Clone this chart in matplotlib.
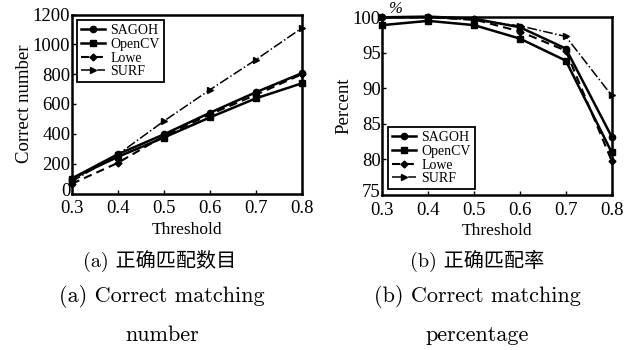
import matplotlib
matplotlib.use("Agg")
import matplotlib.pyplot as plt
import matplotlib.transforms as mtransforms

thresholds = [0.3, 0.4, 0.5, 0.6, 0.7, 0.8]
series_names = ["SAGOH", "OpenCV", "Lowe", "SURF"]

count_sagoh = [100, 263, 396, 541, 679, 807]
count_opencv = [100, 245, 375, 510, 638, 739]
count_lowe = [65, 205, 385, 530, 662, 800]
count_surf = [80, 261, 485, 695, 897, 1110]

pct_sagoh = [100.0, 100.1, 99.8, 98.6, 95.6, 83.2]
pct_opencv = [98.9, 99.5, 98.9, 97.0, 93.9, 81.0]
pct_lowe = [100.0, 100.0, 99.7, 98.0, 95.3, 79.8]
pct_surf = [100.0, 100.0, 99.6, 98.8, 97.3, 89.0]

count_yticks = [0, 200, 400, 600, 800, 1000, 1200]
pct_yticks = [75, 80, 85, 90, 95, 100]

styles = [
    dict(linestyle="-", marker="o", lw=1.8, ms=4.5),
    dict(linestyle="-", marker="s", lw=1.8, ms=4),
    dict(linestyle="--", marker="D", lw=1.5, ms=3.5, dashes=(4, 2.5)),
    dict(linestyle="-.", marker=">", lw=1.1, ms=5),
]

serif = ["Liberation Serif"]
cap_font = ["cmr10", "Noto Sans CJK SC"]

fig = plt.figure(figsize=(6.33, 3.5), dpi=100)
ax1 = fig.add_axes([71.7 / 633, 1 - 193.5 / 350, (302 - 71.7) / 633, (193.5 - 14.5) / 350])
ax2 = fig.add_axes([382.3 / 633, 1 - 195 / 350, (611.7 - 382.3) / 633, (195 - 17.3) / 350])


def draw(ax, data, yticks, ylabel, legend_loc, ylim):
    for name, vals, st in zip(series_names, data, styles):
        kw = dict(st)
        dashes = kw.pop("dashes", None)
        line, = ax.plot(thresholds, vals, color="black", label=name,
                        markerfacecolor="black", markeredgecolor="black",
                        clip_on=False, **kw)
        if dashes:
            line.set_dashes(dashes)
    ax.set_xlim(0.3, 0.8)
    ax.set_ylim(*ylim)
    ax.set_xticks(thresholds)
    ax.set_xticklabels([f"{t:.1f}" for t in thresholds], family=serif, fontsize=13.5)
    ax.set_yticks(yticks)
    ax.set_yticklabels([str(v) for v in yticks], family=serif, fontsize=13.5)
    ax.tick_params(direction="in", length=3, width=1)
    ax.tick_params(axis="x", pad=5)
    ax.tick_params(axis="y", pad=1)
    for s in ax.spines.values():
        s.set_linewidth(1.8)
    ax.set_ylabel(ylabel, family=serif, fontsize=13.5, labelpad=0)
    ax.set_xlabel("Threshold", family=serif, fontsize=12.5, labelpad=3)
    leg = ax.legend(loc=legend_loc, prop=dict(family=serif, size=10), frameon=True,
                    fancybox=False, edgecolor="black", framealpha=1,
                    handlelength=1.7, handletextpad=0.4, labelspacing=0.05,
                    borderpad=0.3, borderaxespad=0.4)
    leg.get_frame().set_linewidth(1.3)
    # nudge the lowest y tick label up slightly so it clears the first x label
    lbl = ax.get_yticklabels()[0]
    lbl.set_transform(lbl.get_transform() +
                      mtransforms.ScaledTranslation(0, 4 / 100, fig.dpi_scale_trans))


draw(ax1, [count_sagoh, count_opencv, count_lowe, count_surf], count_yticks,
     "Correct number", "upper left", (0, 1200))
draw(ax2, [pct_sagoh, pct_opencv, pct_lowe, pct_surf], pct_yticks,
     "Percent", "lower left", (75, 100))

fig.text(395 / 633, 1 - 9 / 350, "%", family=serif, style="italic", fontsize=12,
         ha="center", va="center")

captions = [
    (160, 261, "(a) 正确匹配数目", 14.5), (162, 297, "(a) Correct matching", 16),
    (162, 335, "number", 16),
    (477, 261, "(b) 正确匹配率", 14.5), (477, 297, "(b) Correct matching", 16),
    (477, 335, "percentage", 16),
]
for x, y, t, fs in captions:
    fig.text(x / 633, 1 - y / 350, t, family=cap_font, fontsize=fs, ha="center", va="center")

fig.savefig("out.png", dpi=100)
